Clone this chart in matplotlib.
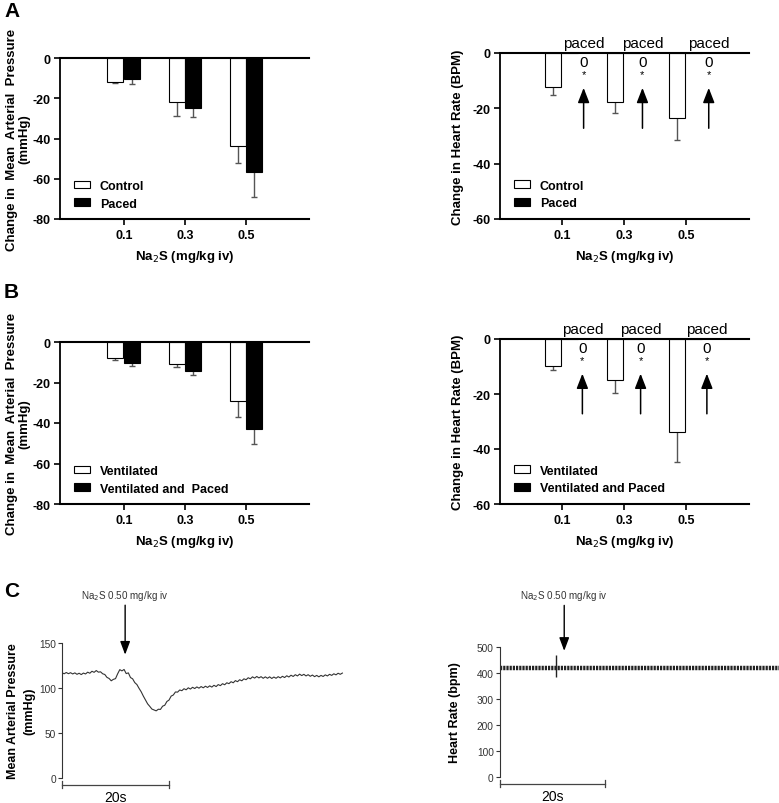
import numpy as np
import matplotlib
matplotlib.use("Agg")
import matplotlib.pyplot as plt

plt.rcParams['font.family'] = ['Liberation Sans', 'DejaVu Sans']

# ---------------- data ----------------
doses = ['0.1', '0.3', '0.5']

# Panel A
mapA_control = [-12.1, -22.1, -43.8]
mapA_control_err = [0.5, 6.8, 8.6]
mapA_paced = [-10.4, -24.8, -56.4]
mapA_paced_err = [2.5, 4.6, 12.7]
hrA_control = [-12.4, -17.8, -23.4]
hrA_control_err = [2.7, 3.8, 8.2]
hrA_paced = [0, 0, 0]

# Panel B
mapB_vent = [-8.1, -11.0, -29.3]
mapB_vent_err = [0.9, 1.2, 7.7]
mapB_ventpaced = [-10.5, -14.2, -43.1]
mapB_ventpaced_err = [1.2, 1.9, 7.4]
hrB_vent = [-9.8, -15.0, -33.9]
hrB_vent_err = [1.4, 4.5, 10.9]
hrB_ventpaced = [0, 0, 0]

# Panel C traces
map_dt = 0.4  # s between samples
map_trace = [
    117.0, 115.8, 117.2, 115.9, 117.0, 115.6, 116.8, 115.2, 116.4, 114.9,
    116.6, 115.6, 117.6, 116.4, 118.6, 117.4, 119.4, 117.6, 118.0, 115.8,
    115.0, 111.8, 110.6, 108.0, 109.6, 110.4, 115.8, 120.4, 119.0, 120.6,
    116.0, 116.8, 111.6, 110.2, 106.0, 103.8, 99.6, 95.8, 91.0, 86.8,
    82.4, 79.6, 76.6, 75.6, 74.6, 76.4, 76.2, 79.8, 80.8, 85.0,
    86.6, 91.0, 92.2, 95.6, 95.4, 97.8, 97.0, 99.2, 98.0, 100.2,
    98.8, 100.8, 99.4, 101.2, 99.8, 101.6, 100.2, 102.0, 100.6, 102.4,
    101.0, 103.0, 101.6, 103.8, 102.6, 104.8, 103.6, 105.8, 104.8, 107.0,
    105.8, 108.2, 107.0, 109.2, 108.0, 110.2, 109.2, 111.4, 110.2, 112.4,
    111.0, 112.8, 111.2, 112.6, 110.8, 112.4, 110.8, 112.4, 110.6, 112.2,
    110.8, 112.6, 111.2, 113.0, 111.6, 113.6, 112.2, 114.2, 112.8, 114.8,
    113.4, 115.4, 113.8, 115.2, 113.4, 114.8, 113.0, 114.4, 112.6, 114.0,
    112.4, 114.0, 112.8, 114.6, 113.4, 115.2, 114.0, 115.8, 114.6, 116.4,
    115.2, 116.6,
]
hr_t = [0.0, 53.0]
hr_trace = [420, 420]
hr_spike_t = 10.7
hr_spike_range = [385, 470]
injection_t_map = 11.8
injection_t_hr = 12.2
scale_bar_s = 20

paced_pos_A = [1.35, 2.30, 3.37]
paced_pos_B = [1.33, 2.27, 3.34]

# ---------------- figure ----------------
W, H = 779, 804
fig = plt.figure(figsize=(W / 100, H / 100), dpi=100)


def ax_px(x0, y0, x1, y1):
    return fig.add_axes([x0 / W, 1 - y1 / H, (x1 - x0) / W, (y1 - y0) / H])


BOLD = dict(fontweight='bold')
ERRC = '#555555'


def bar_panel(ax, ctrl, ctrl_err, other, other_err, ylim, yticks, ylabel,
              labels, xlim_left, label_x):
    x = np.arange(1, len(doses) + 1)
    w = 0.26
    xc = x - 0.14
    xo = x + 0.13
    ax.bar(xc, ctrl, w, color='white', edgecolor='black', lw=0.8,
           label=labels[0], zorder=2)
    ax.bar(xo, other, w, color='black', edgecolor='black', lw=0.8,
           label=labels[1], zorder=2)
    for xs, vals, errs in ((xc, ctrl, ctrl_err), (xo, other, other_err)):
        if errs is None:
            continue
        lo = np.array(vals) - np.array(errs)
        ax.vlines(xs, vals, lo, color=ERRC, lw=1.0, zorder=1)
        ax.hlines(lo, xs - 0.05, xs + 0.05, color=ERRC, lw=1.0, zorder=1)
    ax.set_xlim(xlim_left, 4.02)
    ax.set_ylim(*ylim)
    ax.axhline(0, color='black', lw=1.5, clip_on=False, zorder=3)
    for s in ('top', 'right'):
        ax.spines[s].set_visible(False)
    ax.spines['left'].set_linewidth(1.3)
    ax.spines['bottom'].set_linewidth(1.5)
    ax.set_xticks(x)
    ax.set_xticklabels(doses, fontsize=9, **BOLD)
    ax.set_yticks(yticks)
    ax.set_yticklabels([str(t) for t in yticks], fontsize=9, **BOLD)
    ax.tick_params(axis='both', direction='out', length=4, width=1.2, pad=3)
    ax.set_xlabel('Na$_2$S (mg/kg iv)', fontsize=9.5, labelpad=5, **BOLD)
    ax.set_ylabel(ylabel, fontsize=9.5, linespacing=1.1, **BOLD)
    ax.yaxis.set_label_coords(label_x, 0.5)
    ax.legend(loc='lower left', bbox_to_anchor=(0.03, 0.02), frameon=False,
              prop=dict(weight='bold', size=9), borderpad=0,
              handlelength=1.3, handleheight=0.6, handletextpad=0.8,
              labelspacing=0.45)


def paced_marks(ax, positions):
    for p in positions:
        ax.text(p, 1.2, 'paced', ha='center', va='bottom', fontsize=11,
                clip_on=False)
        ax.text(p, -3.2, '0', ha='center', va='center', fontsize=11)
        ax.text(p, -7.6, '*', ha='center', va='center', fontsize=8)
        ax.annotate('', xy=(p, -12.6), xytext=(p, -27.2),
                    arrowprops=dict(arrowstyle='-|>,head_width=0.35,head_length=0.9',
                                    color='black', lw=1.1, shrinkA=0, shrinkB=0))


mapA_label = 'Change in  Mean  Arterial  Pressure\n(mmHg)'
hr_label = 'Change in Heart Rate (BPM)'

# A left
ax1 = ax_px(60, 59, 309, 220)
bar_panel(ax1, mapA_control, mapA_control_err, mapA_paced, mapA_paced_err,
          (-80, 0), [-80, -60, -40, -20, 0], mapA_label, ['Control', 'Paced'],
          -0.04, -0.118)
# A right
ax2 = ax_px(500, 54, 749, 220)
bar_panel(ax2, hrA_control, hrA_control_err, hrA_paced, None,
          (-60, 0), [-60, -40, -20, 0], hr_label, ['Control', 'Paced'],
          0.0, -0.145)
paced_marks(ax2, paced_pos_A)

# B left
ax3 = ax_px(60, 343, 309, 505)
bar_panel(ax3, mapB_vent, mapB_vent_err, mapB_ventpaced, mapB_ventpaced_err,
          (-80, 0), [-80, -60, -40, -20, 0], mapA_label,
          ['Ventilated', 'Ventilated and  Paced'], -0.04, -0.118)
# B right
ax4 = ax_px(500, 340, 749, 505)
bar_panel(ax4, hrB_vent, hrB_vent_err, hrB_ventpaced, None,
          (-60, 0), [-60, -40, -20, 0], hr_label,
          ['Ventilated', 'Ventilated and Paced'], 0.0, -0.145)
paced_marks(ax4, paced_pos_B)


def trace_axes(ax, ylim, yticks, ylabel, label_x, inj_t, arrow_top, arrow_tip,
               text_y, t_max):
    for s in ('top', 'right', 'bottom'):
        ax.spines[s].set_visible(False)
    ax.spines['left'].set_linewidth(0.8)
    ax.spines['left'].set_color('#333333')
    ax.set_xlim(0, t_max)
    ax.set_ylim(*ylim)
    ax.set_xticks([])
    ax.set_yticks(yticks)
    ax.tick_params(axis='y', direction='out', length=3, width=0.8,
                   labelsize=7.3, labelcolor='#333333', color='#333333', pad=1.5)
    ax.set_ylabel(ylabel, fontsize=9, linespacing=1.45, **BOLD)
    ax.yaxis.set_label_coords(label_x, 0.5)
    # injection arrow
    ax.annotate('', xy=(inj_t, arrow_tip), xytext=(inj_t, arrow_top),
                annotation_clip=False,
                arrowprops=dict(arrowstyle='-|>,head_width=0.3,head_length=0.8',
                                color='black', lw=1.0, shrinkA=0, shrinkB=0))
    ax.text(inj_t, text_y, 'Na$_2$S 0.50 mg/kg iv', ha='center', va='bottom',
            fontsize=7.1, color='#333333', clip_on=False)
    # time scale bar
    tr = ax.get_xaxis_transform()
    yb = -0.05
    ax.plot([0, scale_bar_s], [yb, yb], color='#444444', lw=0.9,
            transform=tr, clip_on=False)
    for xe in (0, scale_bar_s):
        ax.plot([xe, xe], [yb - 0.025, yb + 0.025], color='#444444', lw=0.9,
                transform=tr, clip_on=False)
    ax.text(scale_bar_s / 2, yb - 0.04, '%ds' % scale_bar_s, transform=tr,
            ha='center', va='top', fontsize=10, clip_on=False)


# C left: MAP trace
ax5 = ax_px(62, 644, 344, 779)
map_t = np.arange(len(map_trace)) * map_dt
ax5.plot(map_t, map_trace, color='#333333', lw=0.8)
trace_axes(ax5, (0, 150), [0, 50, 100, 150],
           'Mean Arterial Pressure\n(mmHg)', -0.095, injection_t_map,
           192, 137, 195, 52.7)

# C right: HR trace
ax6 = ax_px(500, 648, 779, 778)
ax6.plot(hr_t, hr_trace, color='#222222', lw=3.2,
         linestyle=(0, (0.5, 0.22)))
ax6.vlines(hr_spike_t, hr_spike_range[0], hr_spike_range[1],
           color='#222222', lw=1.0)
trace_axes(ax6, (0, 500), [0, 100, 200, 300, 400, 500],
           'Heart Rate (bpm)', -0.14, injection_t_hr,
           660, 485, 672, 53.0)

# panel letters
for letter, ytop in (('A', 2), ('B', 283), ('C', 582)):
    fig.text(4 / W, 1 - ytop / H, letter, fontsize=15, fontweight='bold',
             va='top', ha='left')

fig.savefig('out.png', dpi=100)
